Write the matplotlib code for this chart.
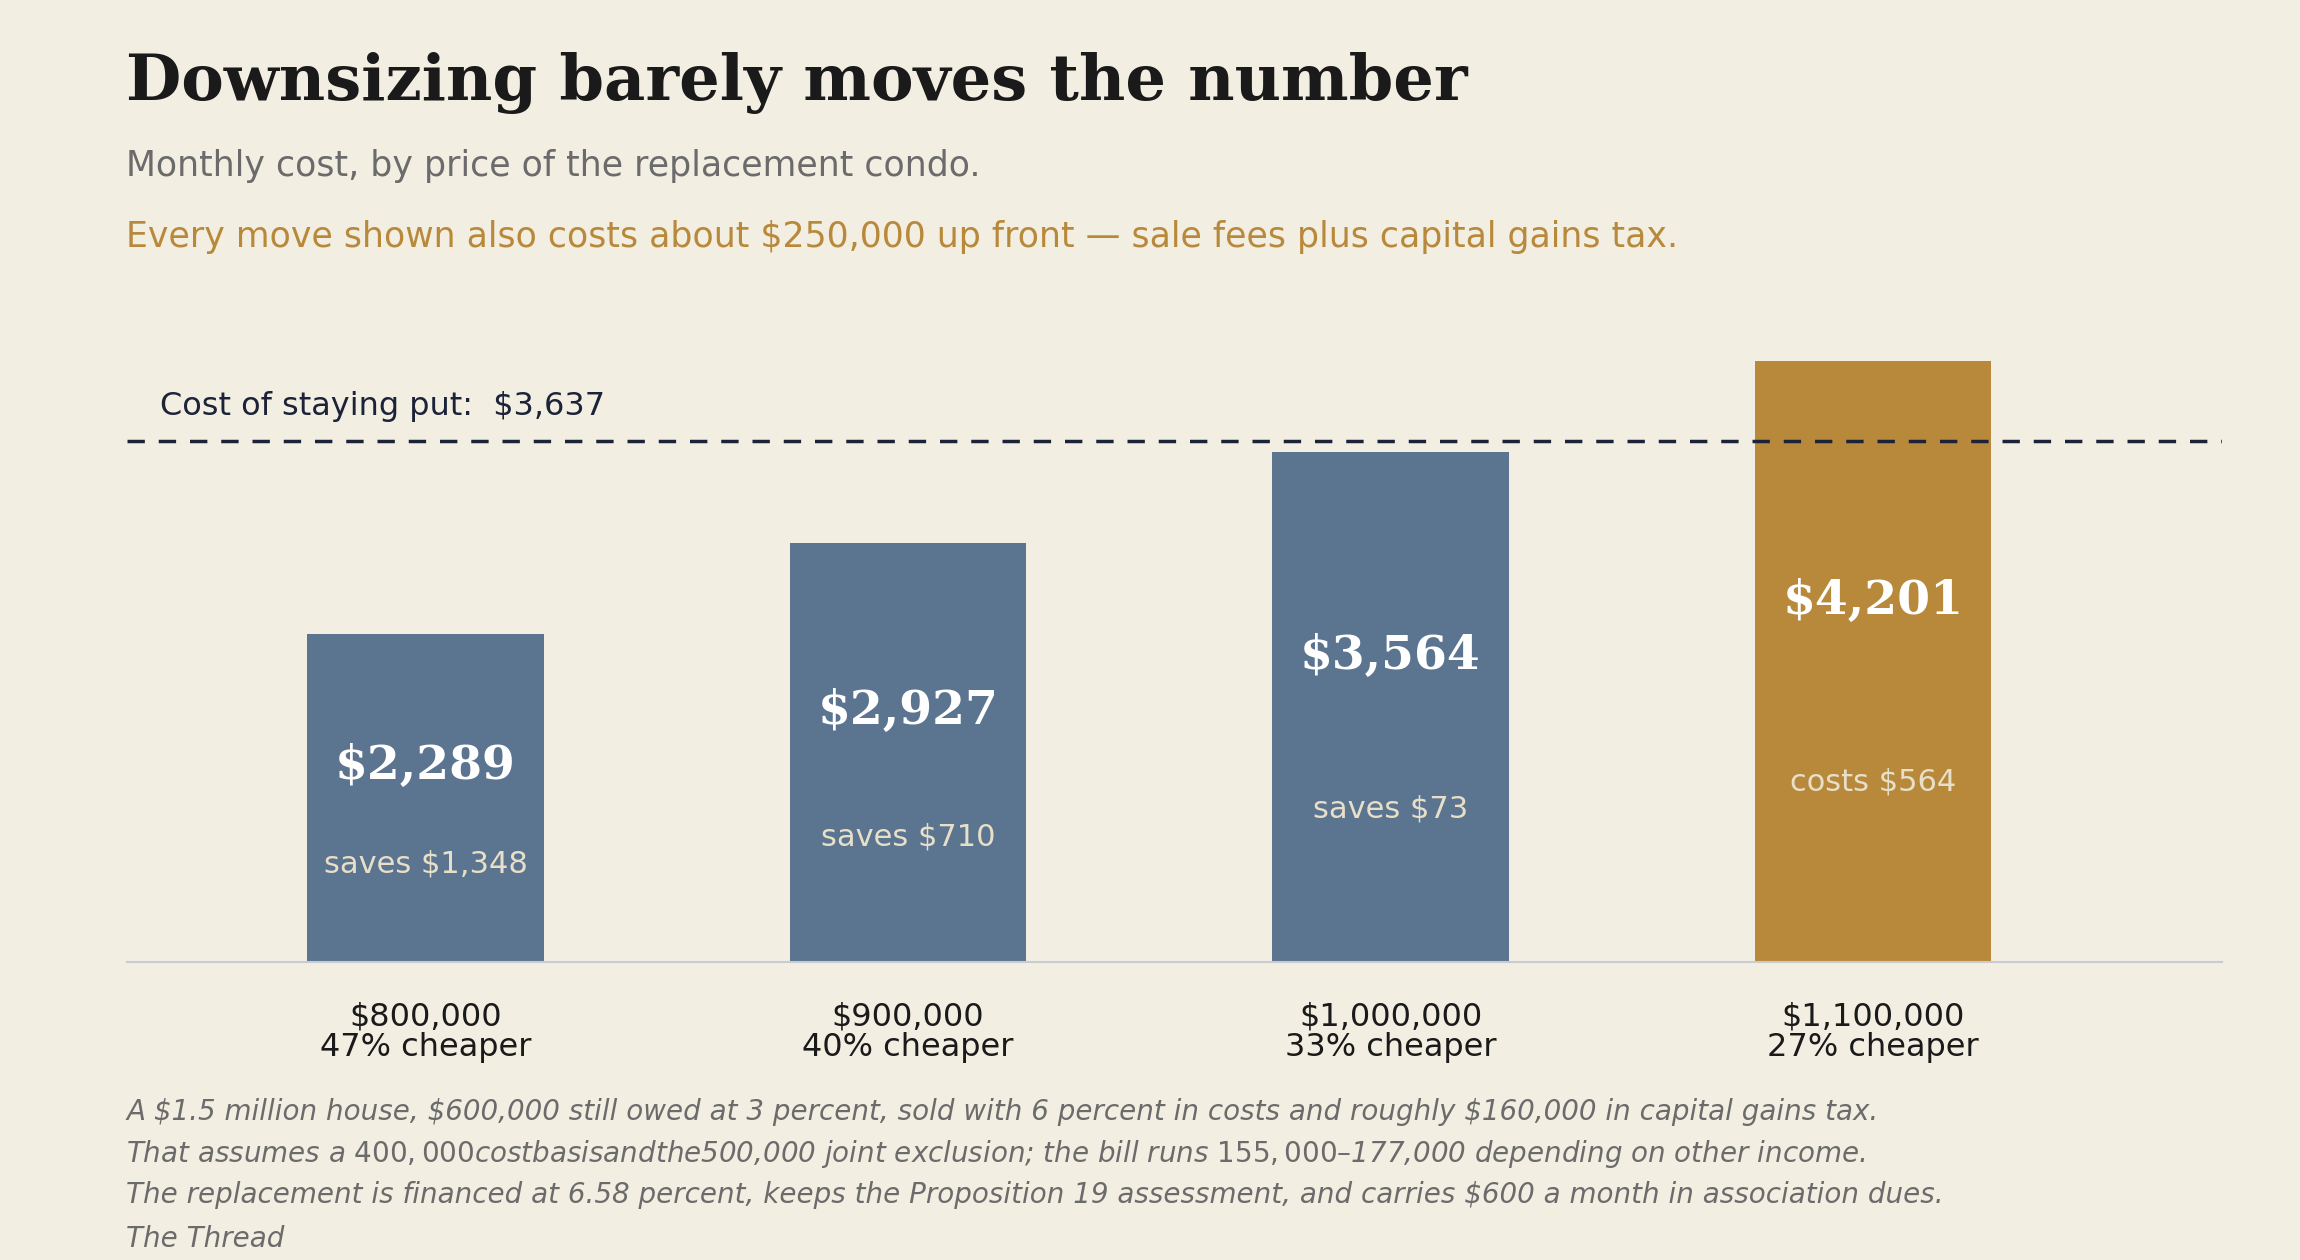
import matplotlib.pyplot as plt

# data
prices = ['$800,000', '$900,000', '$1,000,000', '$1,100,000']
cheaper = ['47% cheaper', '40% cheaper', '33% cheaper', '27% cheaper']
monthly = [2289, 2927, 3564, 4201]
notes = ['saves $1,348', 'saves $710', 'saves $73', 'costs $564']
stay_cost = 3637

bg = '#F3EEE2'
blue = '#5B7490'
gold = '#B8893B'
navy = '#1C2238'

fig = plt.figure(figsize=(23, 12.6), dpi=100, facecolor=bg)
ax = fig.add_axes([0.055, 0.2363, 0.911, 0.531], facecolor=bg)

x = list(range(len(monthly)))
colors = [blue, blue, blue, gold]
ax.bar(x, monthly, width=0.49, color=colors, zorder=2)

for i, v in enumerate(monthly):
    ax.text(i, v * 0.6, f'${v:,}', ha='center', va='center', color='white',
            fontsize=34, fontweight='bold', family='DejaVu Serif')
    ax.text(i, v * 0.3, notes[i], ha='center', va='center', color='#E8DFC8', fontsize=22)

ax.axhline(stay_cost, color=navy, lw=2.5, ls=(0, (5, 4)), zorder=3)
ax.text(-0.55, 3880, f'Cost of staying put:  ${stay_cost:,}', color=navy,
        fontsize=23, va='center', ha='left')

ax.set_xlim(-0.62, 3.723)
ax.set_ylim(0, 4672)
ax.set_yticks([])
ax.set_xticks(x)
ax.set_xticklabels([f'{p}\n{c}' for p, c in zip(prices, cheaper)], fontsize=23,
                   color='#1a1a1a', linespacing=1.0)
ax.tick_params(axis='x', length=0, pad=28)
for s in ['top', 'right', 'left']:
    ax.spines[s].set_visible(False)
ax.spines['bottom'].set_color('#C8CCD0')
ax.spines['bottom'].set_linewidth(1.5)

fig.text(0.055, 0.921, 'Downsizing barely moves the number', fontsize=46, fontweight='bold',
         family='DejaVu Serif', color='#1a1a1a', va='baseline')
fig.text(0.055, 0.860, 'Monthly cost, by price of the replacement condo.', fontsize=25,
         color='#6B6B6B', va='baseline')
fig.text(0.055, 0.804, 'Every move shown also costs about $250,000 up front \u2014 sale fees plus capital gains tax.',
         fontsize=25, color=gold, va='baseline')

foot = ['A $1.5 million house, $600,000 still owed at 3 percent, sold with 6 percent in costs and roughly $160,000 in capital gains tax.',
        'That assumes a $400,000 cost basis and the $500,000 joint exclusion; the bill runs $155,000\u2013$177,000 depending on other income.',
        'The replacement is financed at 6.58 percent, keeps the Proposition 19 assessment, and carries $600 a month in association dues.']
for t, yy in zip(foot, [0.111, 0.078, 0.045]):
    fig.text(0.055, yy, t, fontsize=20, style='italic', color='#6B6B6B', va='baseline')
fig.text(0.055, 0.010, 'The Thread', fontsize=20, style='italic', color='#6B6B6B', va='baseline')

fig.savefig('out.png', dpi=100, facecolor=bg)
